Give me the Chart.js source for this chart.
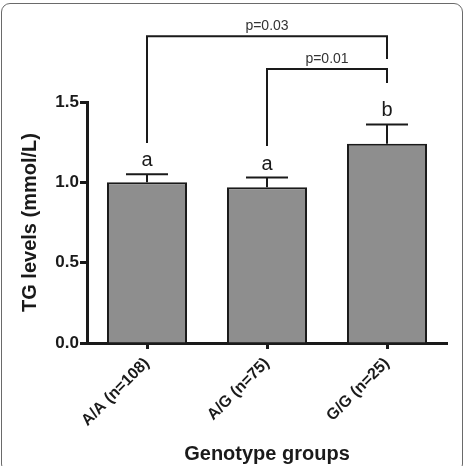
<!DOCTYPE html>
<html>
<head>
<meta charset="utf-8">
<script src="https://cdn.jsdelivr.net/npm/chart.js@4/dist/chart.umd.min.js"></script>
<style>
    html, body { margin: 0; padding: 0; background: #fff; }
    #wrap { position: relative; width: 467px; height: 466px; }
    #frame { position: absolute; left: 1px; top: 3px; width: 462px; height: 470px;
             border: 1.5px solid #6a6a6a; border-radius: 9px; box-sizing: border-box; }
</style>
</head>
<body>
<div id="wrap">
    <canvas id="chart" width="467" height="466"></canvas>
    <div id="frame"></div>
</div>
<script>
    var categories = ['A/A (n=108)', 'A/G (n=75)', 'G/G (n=25)'];
    var means = [1.00, 0.97, 1.24];
    var sem = [0.05, 0.06, 0.12];
    var letters = ['a', 'a', 'b'];
    var yTicks = [0, 0.5, 1.0, 1.5];
    var compFrom = [0, 1];
    var compTo = [2, 2];
    var compLabels = ['p=0.03', 'p=0.01'];

    var FONT = '"Liberation Sans", Arial, sans-serif';
    var INK = '#1a1a1a';

    // error bars, letters and p-value brackets
    var annotations = {
        id: 'annotations',
        afterDatasetsDraw: function (chart) {
            var ctx = chart.ctx;
            var y = chart.scales.y;
            var meta = chart.getDatasetMeta(0);
            ctx.save();
            ctx.strokeStyle = INK;
            ctx.fillStyle = INK;
            ctx.lineWidth = 2;

            for (var i = 0; i < means.length; i++) {
                var x = meta.data[i].x;
                var top = y.getPixelForValue(means[i]);
                var cap = y.getPixelForValue(means[i] + sem[i]);
                ctx.beginPath();
                ctx.moveTo(x, top);
                ctx.lineTo(x, cap);
                ctx.moveTo(x - 21, cap);
                ctx.lineTo(x + 21, cap);
                ctx.stroke();

                ctx.font = '20px ' + FONT;
                ctx.textAlign = 'center';
                ctx.textBaseline = 'alphabetic';
                ctx.fillText(letters[i], x, cap - 8);
            }

            // bracket levels in data units: bar, left leg end, right leg end
            var levels = [[1.91, 1.245, 1.767], [1.705, 1.226, 1.618]];
            for (var k = 0; k < compLabels.length; k++) {
                var x1 = meta.data[compFrom[k]].x;
                var x2 = meta.data[compTo[k]].x;
                var yb = y.getPixelForValue(levels[k][0]);
                ctx.beginPath();
                ctx.moveTo(x1, y.getPixelForValue(levels[k][1]));
                ctx.lineTo(x1, yb);
                ctx.lineTo(x2, yb);
                ctx.lineTo(x2, y.getPixelForValue(levels[k][2]));
                ctx.stroke();

                ctx.font = '14px ' + FONT;
                ctx.fillStyle = '#333';
                ctx.textAlign = 'center';
                ctx.fillText(compLabels[k], (x1 + x2) / 2, yb - 6);
                ctx.fillStyle = INK;
            }
            ctx.restore();
        }
    };

    new Chart(document.getElementById('chart'), {
        type: 'bar',
        data: {
            labels: categories,
            datasets: [{
                data: means,
                backgroundColor: '#8e8e8e',
                borderColor: INK,
                borderWidth: 2,
                borderSkipped: 'bottom',
                barPercentage: 0.667,
                categoryPercentage: 1
            }]
        },
        options: {
            responsive: false,
            animation: false,
            layout: { padding: { left: 0, right: 20, top: 102, bottom: 0 } },
            plugins: { legend: { display: false }, tooltip: { enabled: false } },
            scales: {
                x: {
                    afterFit: function (s) { s.height = 123; },
                    border: { display: true, color: INK, width: 3 },
                    grid: { drawOnChartArea: false, display: true, tickLength: 6, tickWidth: 3, color: INK, offset: false },
                    ticks: {
                        minRotation: 45, maxRotation: 45, padding: 5,
                        color: INK,
                        font: { family: FONT, size: 16, weight: 'bold' }
                    },
                    title: {
                        display: true, text: 'Genotype groups', color: INK,
                        font: { family: FONT, size: 20, weight: 'bold' },
                        padding: { top: 0, bottom: 0 }
                    }
                },
                y: {
                    min: 0, max: 1.5,
                    afterFit: function (s) { s.width = 87; },
                    afterBuildTicks: function (s) {
                        s.ticks = yTicks.map(function (v) { return { value: v }; });
                    },
                    border: { display: true, color: INK, width: 3 },
                    grid: { drawOnChartArea: false, tickLength: 7, tickWidth: 3, color: INK },
                    ticks: {
                        padding: 1, color: INK,
                        font: { family: FONT, size: 17, weight: 'bold' },
                        callback: function (v) { return v.toFixed(1); }
                    },
                    title: {
                        display: true, text: 'TG levels (mmol/L)', color: INK,
                        font: { family: FONT, size: 20, weight: 'bold' },
                        padding: { top: 18, bottom: 0 }
                    }
                }
            }
        },
        plugins: [annotations]
    });
</script>
</body>
</html>
